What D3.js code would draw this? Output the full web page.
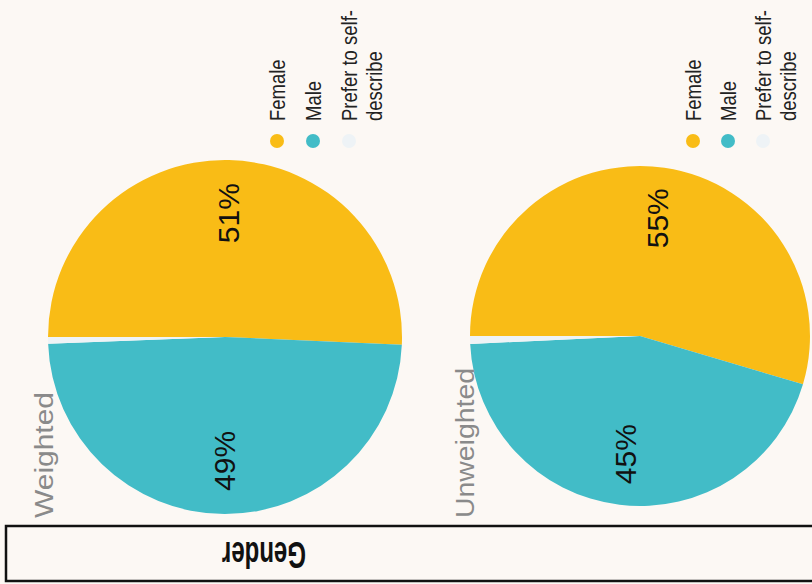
<!DOCTYPE html>
<html>
<head>
<meta charset="utf-8">
<script src="https://cdn.jsdelivr.net/npm/d3@7"></script>
<style>
  html, body { margin: 0; padding: 0; background: #fcf8f4; }
  svg { display: block; font-family: "Liberation Sans", Arial, Helvetica, sans-serif; }
</style>
</head>
<body>
<svg id="chart" width="812" height="584"></svg>
<script>
// Survey respondents by gender, weighted vs unweighted sample
const categories = ["Female", "Male", "Prefer to self-describe"];
const legendLines = [["Female"], ["Male"], ["Prefer to self-", "describe"]];
const groups = ["Weighted", "Unweighted"];
const weightedValues = [51, 49, 0.6];
const unweightedValues = [55, 45, 0.75];
const colors = ["#f9bc16", "#42bcc7", "#eef3f6"];
const title = "Gender";

const svg = d3.select("#chart");
const W = 812, H = 584;

svg.append("rect").attr("width", W).attr("height", H).attr("fill", "#fcf8f4");

const color = d3.scaleOrdinal().domain(categories).range(colors);

// Pies start at 9 o'clock and run clockwise
const pie = d3.pie().sort(null).startAngle(-Math.PI / 2).endAngle(1.5 * Math.PI);

const panels = [
  { name: groups[0], values: weightedValues, cx: 225, cy: 337, r: 177,
    legendX: [277, 313, 349], groupLabelX: 44, groupLabelLen: 126 },
  { name: groups[1], values: unweightedValues, cx: 640, cy: 336, r: 170,
    legendX: [693, 728, 763], groupLabelX: 465, groupLabelLen: 150 }
];

panels.forEach(p => {
  const data = categories.map((c, i) => ({ category: c, value: p.values[i] }));
  const arcs = pie.value(d => d.value)(data);
  const arc = d3.arc().innerRadius(0).outerRadius(p.r);
  const labelArc = d3.arc().innerRadius(p.r * 0.7).outerRadius(p.r * 0.7);

  const g = svg.append("g").attr("transform", `translate(${p.cx},${p.cy})`);
  g.selectAll("path.slice")
    .data(arcs)
    .join("path")
    .attr("class", "slice")
    .attr("d", arc)
    .attr("fill", d => color(d.data.category));

  g.selectAll("text.pct")
    .data(arcs.filter(d => d.data.value >= 5))
    .join("text")
    .attr("class", "pct")
    .attr("transform", d => {
      const [x, y] = labelArc.centroid(d);
      return `translate(${x},${y}) rotate(-90)`;
    })
    .attr("text-anchor", "middle")
    .attr("dy", "0.36em")
    .attr("font-size", 30)
    .attr("fill", "#111")
    .text(d => Math.round(d.data.value) + "%");

  // Legend: swatch dots with labels reading upward
  const lg = svg.append("g");
  categories.forEach((c, i) => {
    const x = p.legendX[i];
    lg.append("circle").attr("cx", x).attr("cy", 141).attr("r", 7).attr("fill", color(c));
    legendLines[i].forEach((line, j) => {
      lg.append("text")
        .attr("transform", `translate(${x + j * 25},121) rotate(-90) scale(1,1.2)`)
        .attr("dy", "0.36em")
        .attr("font-size", 18.5)
        .attr("fill", "#222")
        .text(line);
    });
  });

  // Group name along the lower-left of each pie
  svg.append("text")
    .attr("transform", `translate(${p.groupLabelX},518) rotate(-90)`)
    .attr("dy", "0.36em")
    .attr("font-size", 26)
    .attr("fill", "#8a8a8a")
    .attr("textLength", p.groupLabelLen)
    .attr("lengthAdjust", "spacingAndGlyphs")
    .text(p.name);
});

// Title box along the bottom
svg.append("rect")
  .attr("x", 6).attr("y", 526).attr("width", 820).attr("height", 55)
  .attr("fill", "none").attr("stroke", "#111").attr("stroke-width", 2.5);
svg.append("text")
  .attr("transform", "translate(264,555) rotate(180)")
  .attr("text-anchor", "middle")
  .attr("dy", "0.36em")
  .attr("font-size", 36)
  .attr("font-weight", "bold")
  .attr("fill", "#111")
  .attr("textLength", 84)
  .attr("lengthAdjust", "spacingAndGlyphs")
  .text(title);
</script>
</body>
</html>
